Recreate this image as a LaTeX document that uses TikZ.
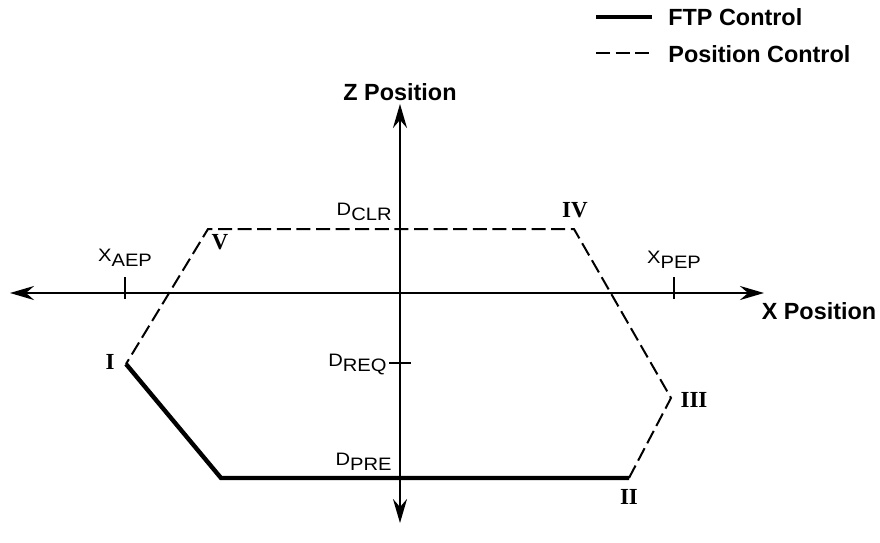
\documentclass[tikz,border=0pt]{standalone}
\usepackage{fontspec}
\setmainfont{Liberation Serif}
\setsansfont{Liberation Sans}
\usetikzlibrary{positioning,arrows.meta}

% distance label: wide letter with a lowered tail
\newcommand{\distlbl}[2]{\scalebox{1.12}[1]{#1\raisebox{-2.6pt}{#2}}}

\begin{document}
\begin{tikzpicture}[
  x=0.5pt, y=-0.5pt,
  every node/.style={inner sep=0pt},
  axis/.style={line width=1.25pt, {Stealth[length=12pt,width=7pt,inset=4pt]}-{Stealth[length=12pt,width=7pt,inset=4pt]}},
  ftp/.style={line width=2.2pt, line join=miter},
  posn/.style={line width=1pt, dash pattern=on 7pt off 2.8pt},
  tickmark/.style={line width=1pt},
  hdr/.style={font=\sffamily\bfseries\fontsize{11.7}{14}\selectfont},
  lbl/.style={font=\sffamily\fontsize{9}{10}\selectfont},
  phase/.style={font=\rmfamily\bfseries\fontsize{11.5}{13}\selectfont}
]
\useasboundingbox (0,0) rectangle (880,542);

% axes
\coordinate (xl) at (10,293);
\coordinate (xr) at (764,293);
\coordinate (zt) at (400,104);
\coordinate (zb) at (400,523);
\draw[axis] (xl) -- (xr);
\draw[axis] (zb) -- (zt);
\node[hdr] (xname) at (819,311) {X Position};
\node[hdr] (zname) at (400,92) {Z Position};

% ticks
\coordinate (aep) at (125,293);
\coordinate (pep) at (674,293);
\coordinate (req) at (400,363);
\draw[tickmark] (aep) ++(0,-16) -- ++(0,22);
\draw[tickmark] (pep) ++(0,-16) -- ++(0,22);
\draw[tickmark] (req) ++(-11,0) -- ++(22,0);

% step cycle corners
\coordinate (p1) at (126,364);
\coordinate (pc) at (221,478);
\coordinate (p2) at (629,478);
\coordinate (p3) at (671,398);
\coordinate (p4) at (574,229);
\coordinate (p5) at (208,229);

\draw[ftp] (p1) -- (pc) -- (p2);
\draw[posn] (p2) -- (p3) -- (p4) -- (p5) -- (p1);

% phase numbers
\node[phase] (n1) at (110,362) {I};
\node[phase] (n2) at (629,497) {II};
\node[phase] (n3) at (694,400) {III};
\node[phase] (n4) at (575,210) {IV};
\node[phase] (n5) at (220,242) {V};

% distances
\node[lbl, anchor=base] (xaep) at (125,261) {\distlbl{X}{AEP}};
\node[lbl, anchor=base] (xpep) at (674,263) {\distlbl{X}{PEP}};
\node[lbl, anchor=base east] (dclr) at (392,215) {\distlbl{D}{CLR}};
\node[lbl, anchor=base east] (dreq) at (387,366) {\distlbl{D}{REQ}};
\node[lbl, anchor=base east] (dpre) at (392,465) {\distlbl{D}{PRE}};

% legend
\coordinate (la) at (596,17);
\coordinate (lb) at (652,17);
\coordinate (lc) at (596,53);
\coordinate (ld) at (652,53);
\draw[ftp] (la) -- (lb);
\draw[posn] (lc) -- (ld);
\node[hdr, anchor=west] (lftp) at (668,17) {FTP Control};
\node[hdr, anchor=west] (lpos) at (668,54) {Position Control};
\end{tikzpicture}
\end{document}
